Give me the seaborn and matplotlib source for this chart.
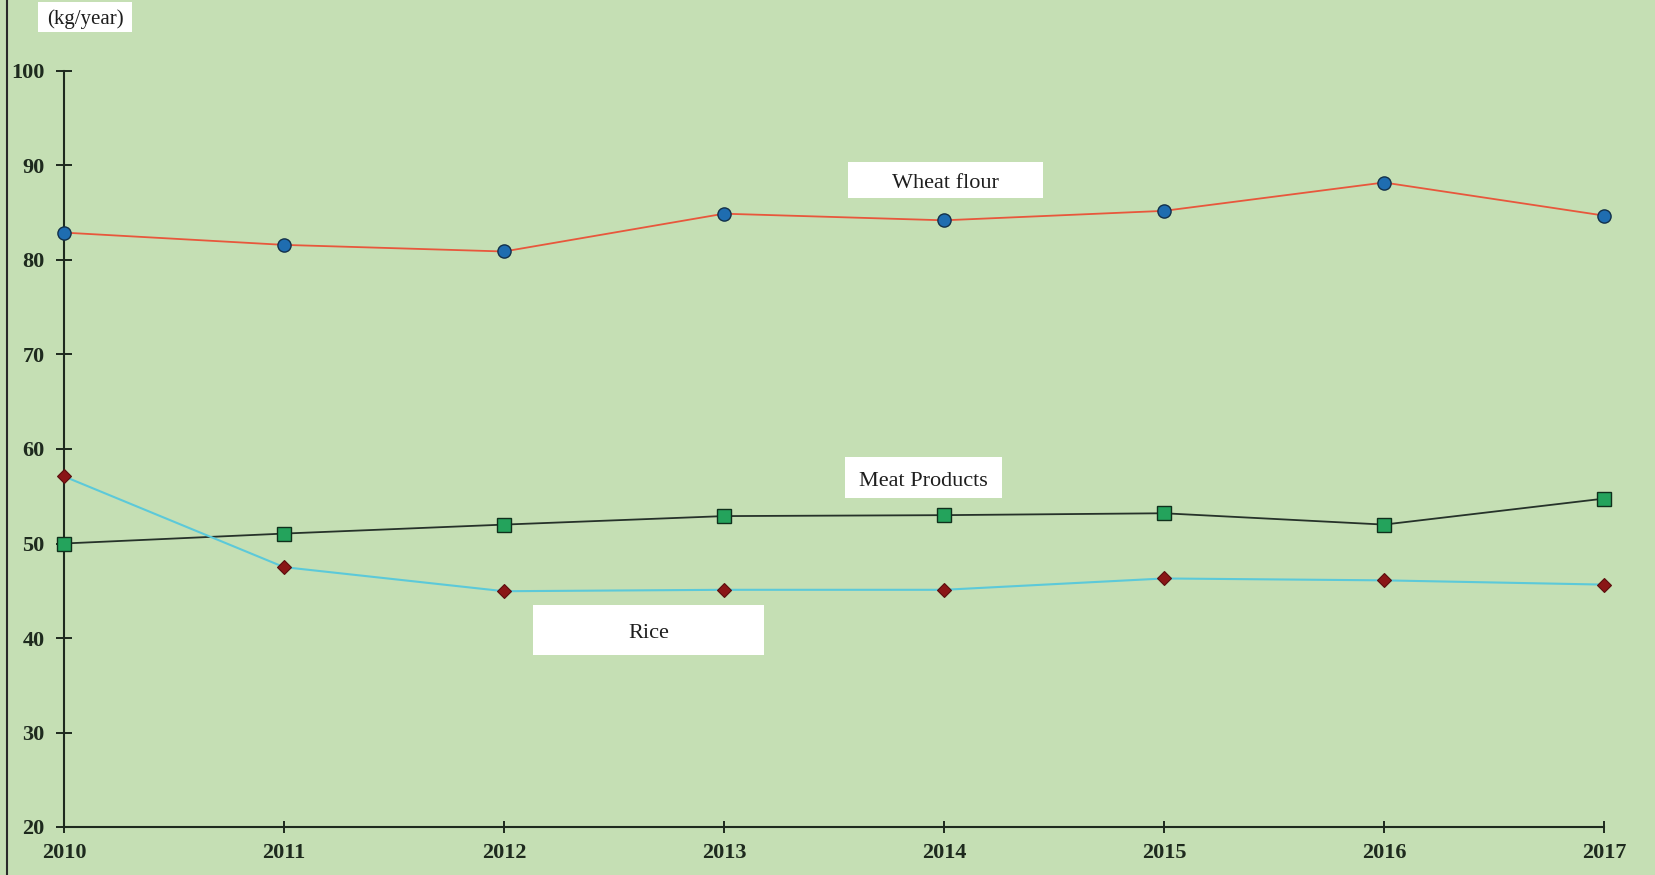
import pandas as pd
import matplotlib.pyplot as plt
import seaborn as sns
from matplotlib.patches import Rectangle
from matplotlib.lines import Line2D

# Values (kg/year)
years = [2010, 2011, 2012, 2013, 2014, 2015, 2016, 2017]
wheat_flour = [82.9, 81.6, 80.9, 84.9, 84.2, 85.2, 88.2, 84.7]
meat_products = [50.0, 51.05, 52.0, 52.9, 53.0, 53.2, 52.0, 54.75]
rice = [57.1, 47.5, 44.95, 45.1, 45.1, 46.3, 46.1, 45.65]
y_ticks = [20, 30, 40, 50, 60, 70, 80, 90, 100]

bg = "#C5DFB4"
W, H = 1656, 875

sns.set_style("white")
plt.rcParams["font.family"] = ["Liberation Serif", "DejaVu Serif"]

fig = plt.figure(figsize=(W / 100, H / 100), dpi=100, facecolor=bg)
ax = fig.add_axes([64 / W, (H - 827) / H, 1540 / W, 756 / H])
ax.set_facecolor(bg)

df = pd.DataFrame({"Year": years, "Wheat flour": wheat_flour,
                   "Meat Products": meat_products, "Rice": rice})

# Wheat flour: red line, blue circles
sns.lineplot(x="Year", y="Wheat flour", data=df, ax=ax, color="#E8573C",
             linewidth=1.3, marker="o", markersize=9.5, markerfacecolor="#1F6DB0",
             markeredgecolor="#13304A", markeredgewidth=1.0, clip_on=False, zorder=3)
# Meat products: dark line, green squares
sns.lineplot(x="Year", y="Meat Products", data=df, ax=ax, color="#26322A",
             linewidth=1.3, marker="s", markersize=9.5, markerfacecolor="#24A35C",
             markeredgecolor="#10301C", markeredgewidth=1.0, clip_on=False, zorder=3)
# Rice: cyan line, dark red diamonds
sns.lineplot(x="Year", y="Rice", data=df, ax=ax, color="#5CC9D9",
             linewidth=1.5, marker="D", markersize=7.5, markerfacecolor="#8A1616",
             markeredgecolor="#5A0E0E", markeredgewidth=0.8, clip_on=False, zorder=3)

ax.set_xlim(2010, 2017)
ax.set_ylim(20, 100)
ax.set_xticks(years)
ax.set_yticks(y_ticks)
ax.set_xlabel("")
ax.set_ylabel("")

for side in ["top", "right"]:
    ax.spines[side].set_visible(False)
for side in ["left", "bottom"]:
    ax.spines[side].set_color("#1E2A1E")
    ax.spines[side].set_linewidth(1.5)

ax.tick_params(axis="y", left=True, direction="inout", length=12, width=1.4, pad=8,
               colors="#1E2A1E", labelsize=16)
ax.tick_params(axis="x", bottom=True, direction="inout", length=9, width=1.4, pad=7,
               colors="#1E2A1E", labelsize=16)
for lab in ax.get_xticklabels() + ax.get_yticklabels():
    lab.set_fontweight("bold")


def label_box(x0, y0, x1, y1, text, size=16, dy=4):
    # white box given in reference pixel coordinates, text centred in it
    fig.patches.append(Rectangle((x0 / W, 1 - y1 / H), (x1 - x0) / W, (y1 - y0) / H,
                                 transform=fig.transFigure, facecolor="white",
                                 edgecolor="none", zorder=5))
    fig.text((x0 + x1) / 2 / W, 1 - ((y0 + y1) / 2 + dy) / H, text, ha="center",
             va="center", fontsize=size, color="#1E1E1E", zorder=6)


label_box(38, 2, 132, 32, "(kg/year)", size=15, dy=2)
label_box(848, 162, 1043, 198, "Wheat flour")
label_box(845, 457, 1002, 498, "Meat Products")
label_box(533, 605, 764, 655, "Rice")

# dark frame line along the left edge
fig.lines.append(Line2D([7 / W, 7 / W], [0, 1], transform=fig.transFigure,
                        color="#2A2A2A", linewidth=1.5))

fig.savefig("out.png", dpi=100, facecolor=bg)
